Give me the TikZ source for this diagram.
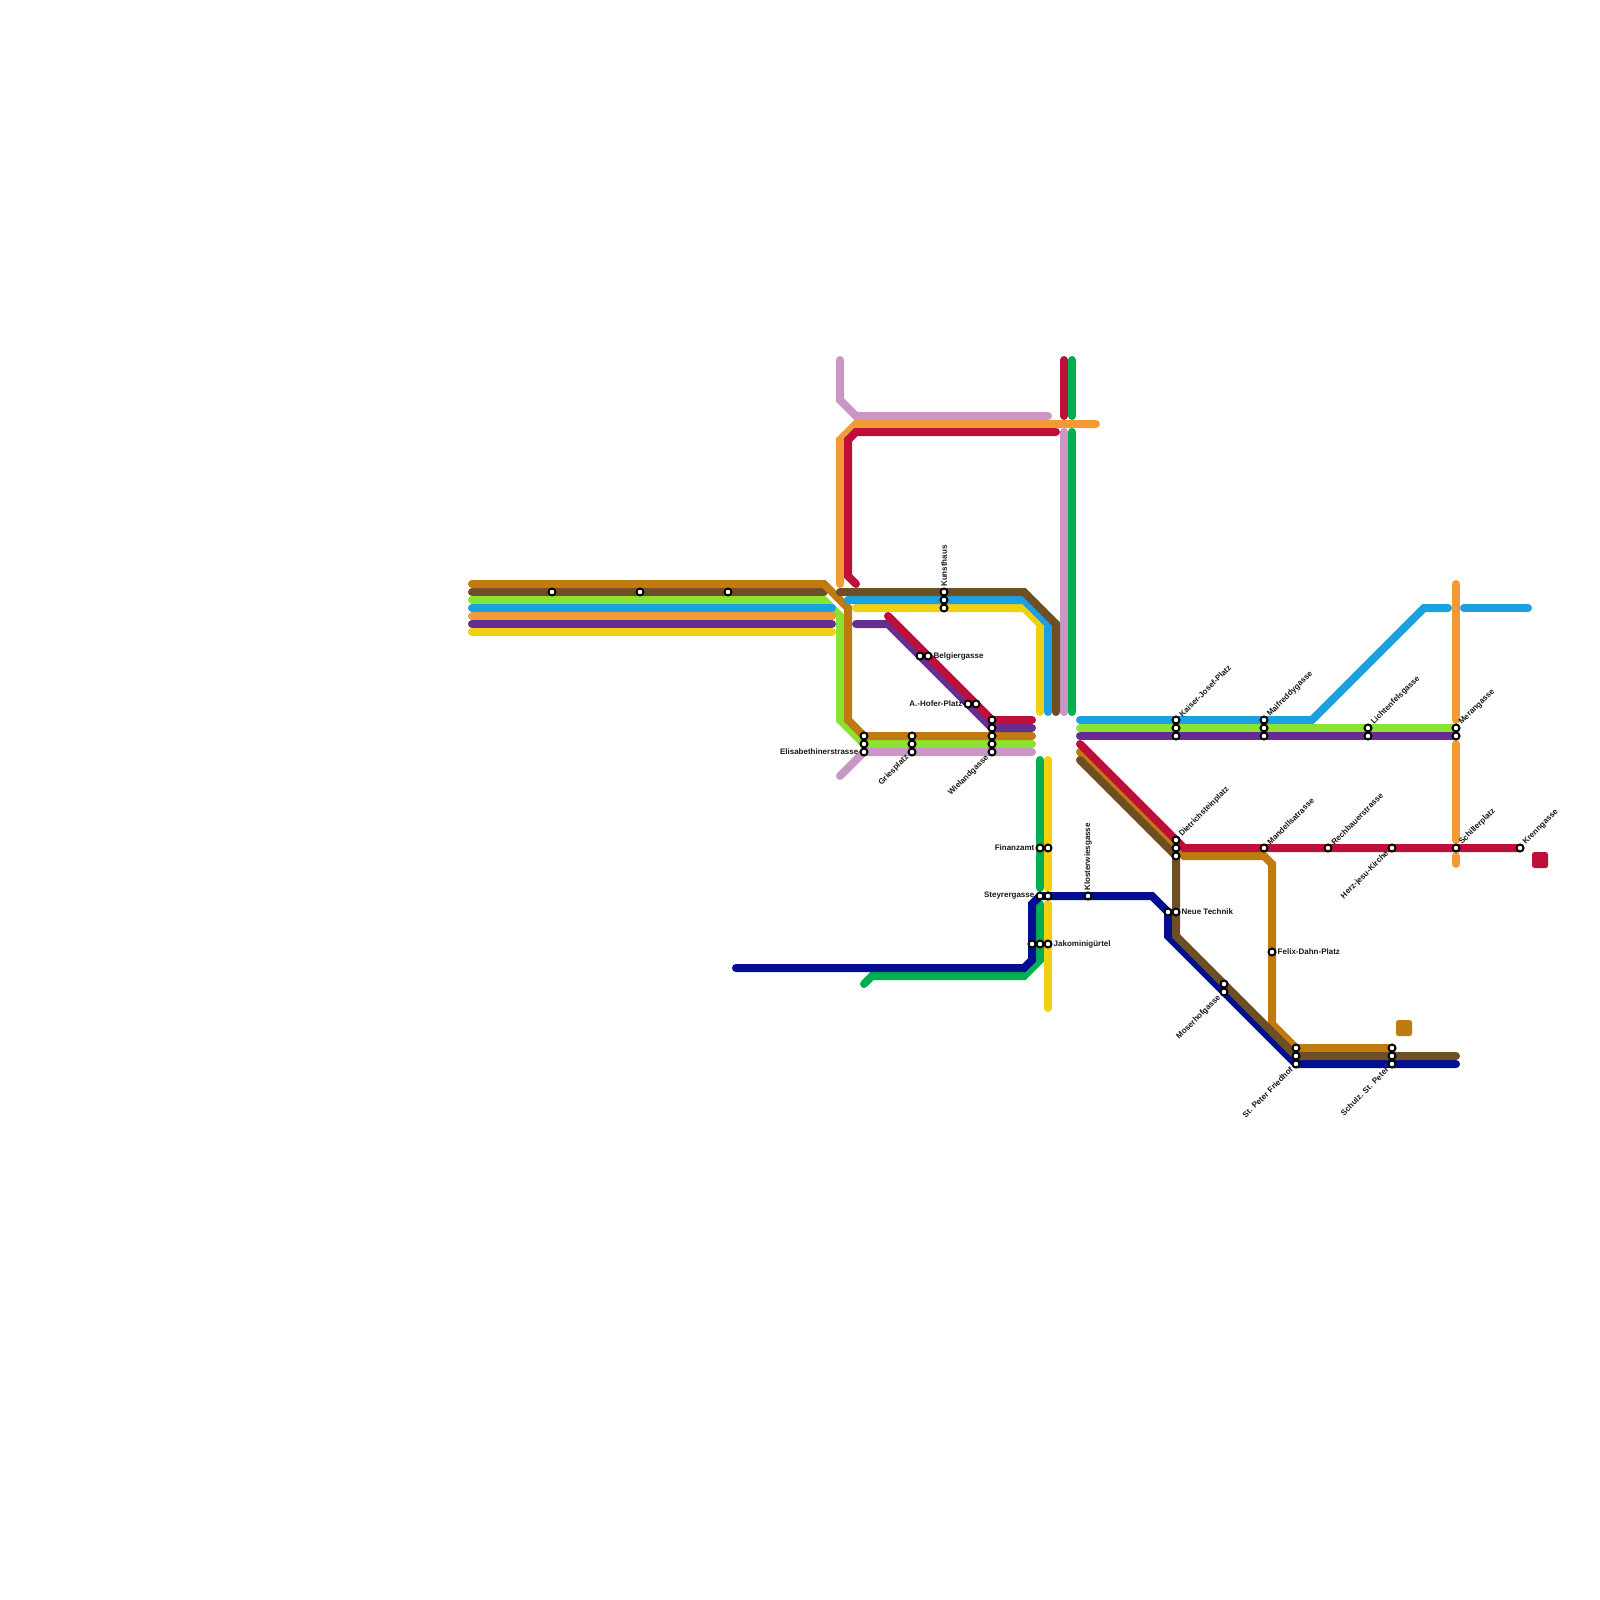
\documentclass[tikz,border=0pt]{standalone}
\usepackage{fontspec}
\setmainfont{Liberation Sans}
\usepackage{xcolor}
\usetikzlibrary{positioning}
\definecolor{lnbrown}{HTML}{BF7A10}
\definecolor{lndark}{HTML}{6E4E24}
\definecolor{lnlime}{HTML}{8AE233}
\definecolor{lnsky}{HTML}{1BA1E2}
\definecolor{lnorange}{HTML}{F29B36}
\definecolor{lnpurple}{HTML}{662D91}
\definecolor{lnyellow}{HTML}{F0D010}
\definecolor{lncrimson}{HTML}{BE0F3A}
\definecolor{lnpink}{HTML}{CA96C6}
\definecolor{lngreen}{HTML}{00B050}
\definecolor{lnnavy}{HTML}{000F8F}

\begin{document}
\begin{tikzpicture}[x=1pt,y=-1pt,
  ln/.style={line width=8pt, line cap=round},
  st/.style={circle, draw=black, fill=white, line width=2pt, minimum size=7pt, inner sep=0pt, outer sep=0pt},
  lbl/.style={font=\fontsize{8}{9}\selectfont\bfseries, inner sep=0pt, text=black!90},
  lblr/.style={lbl, right=2pt of #1},
  lbll/.style={lbl, left=2pt of #1},
  lblne/.style={lbl, rotate=45, anchor=west, xshift=2.8pt},
  lblsw/.style={lbl, rotate=45, anchor=east, xshift=-2.8pt},
  lblup/.style={lbl, rotate=90, anchor=west, xshift=1.6pt},
  sq/.style={rounded corners=2.5pt, minimum size=16pt, inner sep=0pt}]
\useasboundingbox (0,0) rectangle (1600,1600);
\fill[white] (0,0) rectangle (1600,1600);
% west bundle
\draw[ln,lnlime] (472,600) -- (824,600) -- (840,616) -- (840,720) -- (864,744) -- (1032,744);
\draw[ln,lnsky] (472,608) -- (832,608);
\draw[ln,lnorange] (472,616) -- (832,616);
\draw[ln,lnpurple] (472,624) -- (832,624);
\draw[ln,lnyellow] (472,632) -- (832,632);
\draw[ln,lndark] (472,592) -- (824,592);
\draw[ln,lnbrown] (472,584) -- (824,584) -- (848,608) -- (848,720) -- (864,736) -- (1032,736);
\draw[ln,lnpink] (840,776) -- (864,752) -- (1032,752);
% north block
\draw[ln,lnpink] (840,360) -- (840,400) -- (856,416) -- (1048,416);
\draw[ln,lnorange] (840,584) -- (840,440) -- (856,424) -- (1096,424);
\draw[ln,lncrimson] (856,584) -- (848,576) -- (848,440) -- (856,432) -- (1056,432);
\draw[ln,lncrimson] (1064,360) -- (1064,416);
\draw[ln,lngreen] (1072,360) -- (1072,416);
\draw[ln,lnpink] (1064,432) -- (1064,712);
\draw[ln,lngreen] (1072,432) -- (1072,712);
\draw[ln,lnyellow] (856,608) -- (1024,608) -- (1040,624) -- (1040,712);
\draw[ln,lnsky] (848,600) -- (1024,600) -- (1048,624) -- (1048,712);
\draw[ln,lndark] (840,592) -- (1024,592) -- (1056,624) -- (1056,712);
\draw[ln,lnpurple] (856,624) -- (888,624) -- (992,728) -- (1032,728);
\draw[ln,lncrimson] (888,616) -- (992,720) -- (1032,720);
% south block
\draw[ln,lngreen] (1040,760) -- (1040,888);
\draw[ln,lnyellow] (1048,760) -- (1048,888);
\draw[ln,lngreen] (1040,904) -- (1040,960) -- (1024,976) -- (872,976) -- (864,984);
\draw[ln,lnyellow] (1048,904) -- (1048,1008);
\draw[ln,lnnavy] (736,968) -- (1024,968) -- (1032,960) -- (1032,904) -- (1040,896) -- (1152,896) -- (1168,912) -- (1168,936) -- (1296,1064) -- (1456,1064);
% east block
\draw[ln,lnorange] (1456,584) -- (1456,720);
\draw[ln,lnorange] (1456,744) -- (1456,840);
\draw[ln,lnorange] (1456,856) -- (1456,864);
\draw[ln,lnsky] (1080,720) -- (1312,720) -- (1424,608) -- (1448,608);
\draw[ln,lnsky] (1464,608) -- (1528,608);
\draw[ln,lnlime] (1080,728) -- (1456,728);
\draw[ln,lnpurple] (1080,736) -- (1456,736);
\draw[ln,lnbrown] (1080,752) -- (1176,848) -- (1184,856) -- (1264,856) -- (1272,864) -- (1272,1024) -- (1296,1048) -- (1392,1048);
\draw[ln,lncrimson] (1080,744) -- (1176,840) -- (1184,848) -- (1520,848);
\draw[ln,lndark] (1080,760) -- (1176,856) -- (1176,936) -- (1296,1056) -- (1456,1056);
\node[sq,fill=lnbrown] (sqbrown) at (1404,1028) {};
\node[sq,fill=lncrimson] (sqcrimson) at (1540,860) {};
% stations
\foreach \n/\x/\y in {wa/552/592,wb/640/592,wc/728/592,
    kun1/944/592,kun2/944/600,kun3/944/608,bel1/920/656,bel2/928/656,hof1/968/704,hof2/976/704,
    wie1/992/720,wie2/992/728,wie3/992/736,wie4/992/744,wie5/992/752,
    gri1/912/736,gri2/912/744,gri3/912/752,eli1/864/736,eli2/864/744,eli3/864/752,
    fin1/1040/848,fin2/1048/848,ste1/1040/896,ste2/1048/896,jak1/1032/944,jak2/1040/944,jak3/1048/944,
    klo/1088/896,neu1/1168/912,neu2/1176/912,die1/1176/840,die2/1176/848,die3/1176/856,
    mos1/1224/984,mos2/1224/992,kai1/1176/720,kai2/1176/728,kai3/1176/736,
    mai1/1264/720,mai2/1264/728,mai3/1264/736,man/1264/848,fel/1272/952,
    pet1/1296/1048,pet2/1296/1056,pet3/1296/1064,sch1/1392/1048,sch2/1392/1056,sch3/1392/1064,
    lic1/1368/728,lic2/1368/736,mer1/1456/728,mer2/1456/736,
    rec/1328/848,her/1392/848,sil/1456/848,kre/1520/848}
  \node[st] (\n) at (\x,\y) {};
% labels
\node[lblup] (kunt) at (kun1.north) {Kunsthaus};
\node[lblup] (klot) at (klo.north) {Klosterwiesgasse};
\node[lblr=bel2] (belt) {Belgiergasse};
\node[lbll=hof1] (hoft) {A.-Hofer-Platz};
\node[lbll=eli3] (elit) {Elisabethinerstrasse};
\node[lbll=fin1] (fint) {Finanzamt};
\node[lbll=ste1] (stet) {Steyrergasse};
\node[lblr=jak3] (jakt) {Jakominigürtel};
\node[lblr=neu2] (neut) {Neue Technik};
\node[lblr=fel] (felt) {Felix-Dahn-Platz};
\node[lblsw] (grit) at (gri3.south west) {Griesplatz};
\node[lblsw] (wiet) at (wie5.south west) {Wielandgasse};
\node[lblsw] (most) at (mos2.south west) {Moserhofgasse};
\node[lblsw] (pett) at (pet3.south west) {St. Peter Friedhof};
\node[lblsw] (scht) at (sch3.south west) {Schulz. St. Peter};
\node[lblsw] (hert) at (her.south west) {Herz-jesu-Kirche};
\node[lblne] (kait) at (kai1.north east) {Kaiser-Josef-Platz};
\node[lblne] (mait) at (mai1.north east) {Maifreddygasse};
\node[lblne] (dit) at (die1.north east) {Dietrichsteinplatz};
\node[lblne] (mant) at (man.north east) {Mandellsatrasse};
\node[lblne] (lict) at (lic1.north east) {Lichtenfelsgasse};
\node[lblne] (mert) at (mer1.north east) {Merangasse};
\node[lblne] (rect) at (rec.north east) {Rechbauerstrasse};
\node[lblne] (silt) at (sil.north east) {Schillerplatz};
\node[lblne] (kret) at (kre.north east) {Krenngasse};
\end{tikzpicture}
\end{document}
